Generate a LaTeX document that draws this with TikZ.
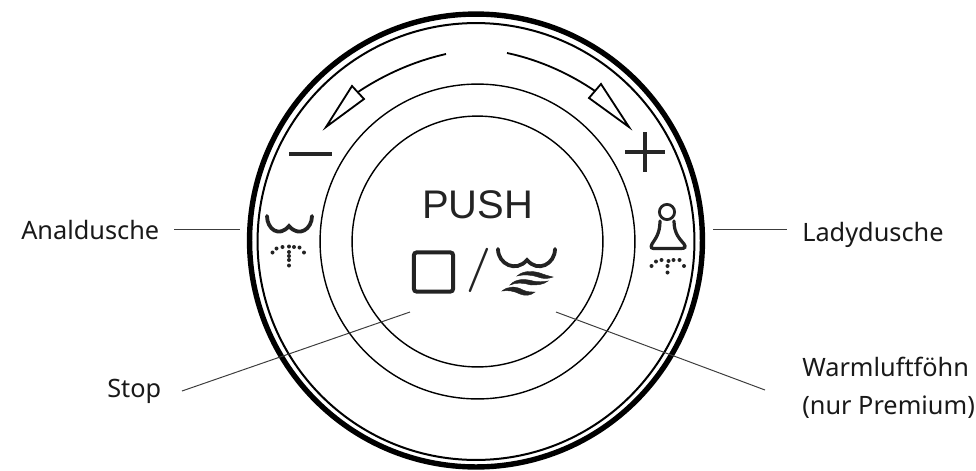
\documentclass[tikz,border=0pt]{standalone}
\usepackage{fontspec}
\newfontfamily\pushfont{Liberation Sans}
\newfontfamily\labelfont{Noto Sans}
\usetikzlibrary{positioning,arrows.meta}
\definecolor{InkGrey}{RGB}{35,35,35}
\definecolor{LeadGrey}{RGB}{60,60,60}
\tikzset{
  ring/.style={circle, draw=black, inner sep=0pt, outer sep=0pt, fill=none},
  calllabel/.style={font=\labelfont\fontsize{18}{27.4}\selectfont, text=black!90, inner sep=0pt, align=left},
  leader/.style={draw=LeadGrey, line width=0.7pt},
  arcline/.style={draw=black, line width=1.3pt},
  arrowtri/.style={draw=black, line width=1.3pt, fill=white, line join=miter},
  signbar/.style={draw=black!85, line width=2.9pt},
  iconline/.style={draw=InkGrey, line width=2.3pt, line cap=round},
  wavefill/.style={fill=InkGrey, draw=InkGrey, line width=0.3pt},
  spray/.style={fill=InkGrey},
}
\begin{document}
\begin{tikzpicture}[x=0.025cm, y=-0.025cm]
  \useasboundingbox (0,0) rectangle (976,470);
  \node[ring, line width=0.135cm, minimum size=11.32cm] (outer) at (476,240.5) {};
  \node[ring, line width=0.05cm, minimum size=10.92cm] (rim) at (476,241.5) {};
  \node[ring, line width=0.035cm, minimum size=7.87cm] (mid) at (477.5,241.5) {};
  \node[ring, line width=0.035cm, minimum size=6.27cm] (inner) at (477.5,241.5) {};

  % arrows on the rim
  \draw[arcline] (446,54) .. controls (415,61) and (385,74) .. (358,92);
  \draw[arrowtri] (352,86) -- (364,99) -- (326,127) -- cycle;
  \draw[arcline] (507,53) .. controls (540,60) and (570,74) .. (595,91);
  \draw[arrowtri] (601,84) -- (589,98) -- (629,127) -- cycle;
  \draw[signbar] (289,154) -- (332,154);
  \draw[signbar] (625,152) -- (665,152) (645,132) -- (645,172);

  % left spray icon
  \draw[iconline, line width=2.7pt] (267,216) .. controls (267,229) and (279,238) .. (289,226)
    .. controls (299,238) and (312,229) .. (312,216);
  \foreach \x/\y in {272.5/252.5,276.5/248.5,282.5/247,289/246.5,294/247,299.5/247.5,304/252.5,289/252,289/256,289/260,289/265.5}
    \fill[spray] (\x,\y) circle (2);

  % right spray icon
  \node[ring, draw=InkGrey, line width=0.07cm, minimum size=0.38cm] (head) at (667,212) {};
  \draw[iconline] (660,221) .. controls (660,234) and (655,239) .. (652,244)
    .. controls (650,248) and (652,248.5) .. (655,248.5) -- (681,248.5)
    .. controls (685,248.5) and (686,247) .. (684,244)
    .. controls (680,239) and (674,234) .. (674,221);
  \foreach \x/\y in {651.5/266,656/261.5,661.5/260,668.5/261,673.5/260,679.5/260,684/266,667.5/266,667.5/272.5}
    \fill[spray] (\x,\y) circle (2);

  % centre button
  \node[font=\pushfont\fontsize{28.4}{30}\selectfont, inner sep=0pt, text=InkGrey] (push) at (477.5,205) {PUSH};
  \node[draw=InkGrey, line width=0.1cm, rounded corners=2pt, inner sep=0pt, minimum size=0.98cm] (stopbox) at (433.5,272) {};
  \node[font=\bfseries\fontsize{31.5}{33}\selectfont, inner sep=0pt, text=InkGrey] (slash) at (479,270) {/};
  \draw[iconline, line width=2.7pt] (498,249) .. controls (498,264) and (516,273) .. (527,260)
    .. controls (538,273) and (555,264) .. (555,249);
  \draw[wavefill] (517,276) .. controls (524,270) and (533,271) .. (540,273)
    .. controls (545,275) and (549,276) .. (553,277)
    .. controls (548,279) and (543,279) .. (538,277)
    .. controls (532,275) and (524,274) .. (517,276) -- cycle;
  \draw[wavefill] (510,285) .. controls (516,278) and (526,279) .. (533,281)
    .. controls (538,282) and (543,282) .. (548,281)
    .. controls (543,285) and (537,285) .. (531,285)
    .. controls (524,283) and (516,282) .. (510,285) -- cycle;
  \draw[wavefill] (502,291) .. controls (508,286) and (516,286) .. (523,290)
    .. controls (527,292) and (531,292) .. (535,292)
    .. controls (530,296) and (525,296) .. (520,294)
    .. controls (514,291) and (508,290) .. (502,291) -- cycle;

  % callouts
  \node[calllabel, anchor=base west] (anal) at (21,239) {Analdusche};
  \node[calllabel, anchor=base west] (lady) at (802,241) {Ladydusche};
  \node[calllabel, anchor=base west] (stoplab) at (107,397) {Stop};
  \node[calllabel, anchor=west] (warm) at (802,388) {Warmluftföhn\\(nur Premium)};
  \coordinate (analend) at (240,229.5);
  \coordinate (ladyend) at (713,229.5);
  \coordinate (stopend) at (410,312);
  \coordinate (warmend) at (556,312);
  \coordinate (stopstart) at (182,391);
  \coordinate (warmstart) at (765,390);
  \draw[leader] (174,229.5) -- (analend);
  \draw[leader] (ladyend) -- (787,229.5);
  \draw[leader] (stopstart) -- (stopend);
  \draw[leader] (warmstart) -- (warmend);
\end{tikzpicture}
\end{document}
